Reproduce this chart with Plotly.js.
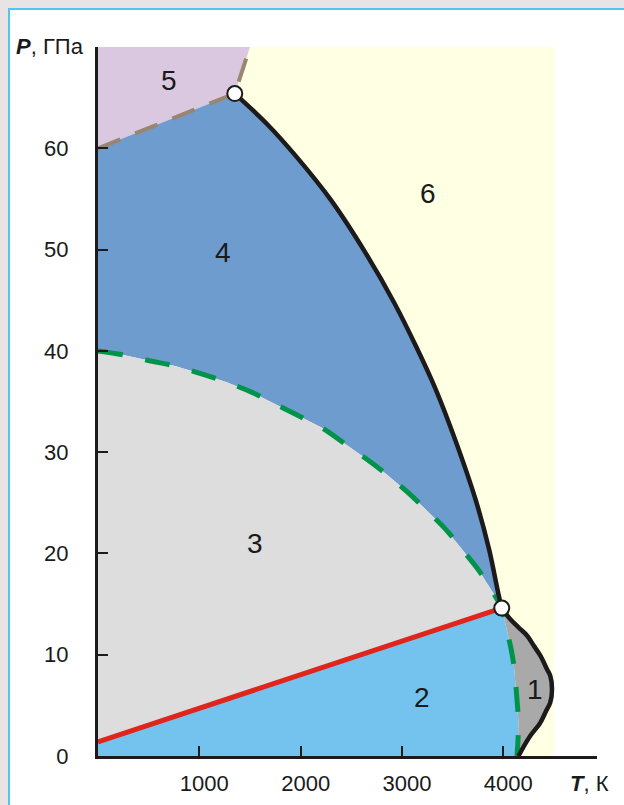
<!DOCTYPE html>
<html>
<head>
<meta charset="utf-8">
<script src="https://cdn.plot.ly/plotly-3.0.1.min.js"></script>
<style>
  html, body { margin:0; padding:0; }
  body { width:624px; height:805px; background:#e8e4e6; position:relative; overflow:hidden; }
  #frame { position:absolute; left:8px; top:8px; width:616px; height:797px; background:#ffffff;
           border-left:2px solid #55c4ee; border-top:2px solid #55c4ee; box-sizing:border-box; }
  #plot { position:absolute; left:0; top:0; width:624px; height:805px; }
</style>
</head>
<body>
<div id="frame"></div>
<div id="plot"></div>
<script>
// ---- data (T in K, P in GPa) ----
const T_MAX = 4500;
const P_MAX = 70;

const brownLowT = [0, 1350];
const brownLowP = [60, 65.4];
const brownUpT = [1350, 1500];
const brownUpP = [65.4, 70];

const meltT = [1350, 1668, 1964, 2298, 2645, 2926, 3141, 3333, 3526, 3727, 3860, 3950, 3985];
const meltP = [65.4, 62.4, 59.1, 54.9, 49.6, 44.7, 40.4, 36.2, 31.2, 25.3, 20.4, 16.1, 14.6];

const greenUpT = [0, 250, 520, 760, 1030, 1270, 1520, 1740, 1980, 2210, 2440, 2640, 2850, 3050, 3250, 3430, 3610, 3760, 3920, 3985];
const greenUpP = [40.0, 39.6, 39.0, 38.5, 37.7, 36.9, 35.9, 34.8, 33.6, 32.4, 30.8, 29.4, 27.8, 26.1, 24.2, 22.4, 20.2, 18.3, 15.8, 14.6];

const greenLowT = [3985, 4030, 4070, 4105, 4135, 4150, 4145, 4135];
const greenLowP = [14.6, 12.6, 10.9, 8.9, 5.6, 3.3, 1.5, 0];

const r1T = [3985, 4070, 4150, 4234, 4300, 4366, 4430, 4464, 4481, 4464, 4420, 4366, 4267, 4200, 4150];
const r1P = [14.6, 13.5, 12.7, 11.9, 10.9, 9.9, 8.6, 7.9, 6.6, 5.3, 4.4, 3.3, 2.0, 0.9, 0];

const redT = [0, 3985];
const redP = [1.4, 14.6];

const tripleT = [1350, 3985];
const tripleP = [65.4, 14.6];

const labelT = [4316, 3198, 1550, 1235, 697, 3260];
const labelP = [6.6, 5.8, 21.0, 49.7, 66.7, 55.5];
const labelText = ['1', '2', '3', '4', '5', '6'];

const xTickVals = [1000, 2000, 3000, 4000];
const yTickVals = [0, 10, 20, 30, 40, 50, 60, 70];
const yTickText = ['0', '10', '20', '30', '40', '50', '60', ''];

// ---- colours ----
const C = {
  r6: '#ffffe3', r5: '#d9c8e0', r4: '#6e9cce', r3: '#dddddd', r2: '#73c3ee', r1: '#a9a9a9',
  brown: '#9a8570', green: '#00944a', red: '#e0261c', black: '#1c1a1a'
};

const rev = a => a.slice().reverse();
const fillTrace = (xs, ys, color) => ({
  x: xs, y: ys, type: 'scatter', mode: 'lines', fill: 'toself', fillcolor: color,
  line: { width: 0, color: color }, hoverinfo: 'skip'
});
const lineTrace = (xs, ys, color, width, dash, shape) => ({
  x: xs, y: ys, type: 'scatter', mode: 'lines',
  line: { color: color, width: width, dash: dash || 'solid', shape: shape || 'linear', smoothing: 1 },
  hoverinfo: 'skip'
});

const traces = [
  fillTrace([0, T_MAX, T_MAX, 0], [0, 0, P_MAX, P_MAX], C.r6),
  fillTrace([...brownLowT, ...brownUpT.slice(1), 0], [...brownLowP, ...brownUpP.slice(1), P_MAX], C.r5),
  fillTrace([...greenUpT, ...rev(meltT), ...rev(brownLowT)], [...greenUpP, ...rev(meltP), ...rev(brownLowP)], C.r4),
  fillTrace([...redT, ...rev(greenUpT)], [...redP, ...rev(greenUpP)], C.r3),
  fillTrace([0, ...redT, ...greenLowT], [0, ...redP, ...greenLowP], C.r2),
  fillTrace([...greenLowT, ...rev(r1T)], [...greenLowP, ...rev(r1P)], C.r1),
  lineTrace([...brownLowT, ...brownUpT.slice(1)], [...brownLowP, ...brownUpP.slice(1)], C.brown, 4, '24px,16px'),
  lineTrace([...greenUpT, ...greenLowT.slice(1)], [...greenUpP, ...greenLowP.slice(1)], C.green, 5, '25px,23px', 'spline'),
  lineTrace(redT, redP, C.red, 5),
  lineTrace(meltT, meltP, C.black, 4.5, 'solid', 'spline'),
  lineTrace(r1T, r1P, C.black, 4.5, 'solid', 'spline'),
  { x: tripleT, y: tripleP, type: 'scatter', mode: 'markers', hoverinfo: 'skip',
    marker: { size: 15, color: '#ffffff', line: { color: C.black, width: 2 } } }
];

const FONT = 'Liberation Sans, Arial, sans-serif';

const annotations = labelText.map((t, i) => ({
  x: labelT[i], y: labelP[i], xref: 'x', yref: 'y', text: t, showarrow: false,
  font: { family: FONT, size: 28, color: '#1a1a1a' }, xanchor: 'center', yanchor: 'middle'
}));
annotations.push({
  xref: 'paper', yref: 'paper', x: (50 - 98) / 499, y: (756 - 46) / 709,
  text: '<b><i>P</i></b>, ГПа', showarrow: false, xanchor: 'center', yanchor: 'middle',
  font: { family: FONT, size: 22, color: '#1a1a1a' }
});
annotations.push({
  xref: 'paper', yref: 'paper', x: (589 - 98) / 499, y: (756 - 783) / 709,
  text: '<b><i>T</i></b>, К', showarrow: false, xanchor: 'center', yanchor: 'middle',
  font: { family: FONT, size: 22, color: '#1a1a1a' }
});

const layout = {
  width: 624, height: 805,
  margin: { l: 98, r: 27, t: 47, b: 49, pad: 0 },
  paper_bgcolor: 'rgba(0,0,0,0)', plot_bgcolor: 'rgba(0,0,0,0)',
  showlegend: false,
  font: { family: FONT, size: 22, color: '#1a1a1a' },
  xaxis: {
    range: [0, 4925], showgrid: false, zeroline: false,
    showline: true, linewidth: 3, linecolor: C.black,
    ticks: 'inside', ticklen: 10, tickwidth: 2, tickcolor: C.black,
    tickmode: 'array', tickvals: xTickVals,
    tickfont: { family: FONT, size: 22, color: '#1a1a1a' },
    ticklabelstandoff: 6, ticklabelshift: 5
  },
  yaxis: {
    range: [0, P_MAX], showgrid: false, zeroline: false,
    showline: true, linewidth: 3, linecolor: C.black,
    ticks: 'inside', ticklen: 10, tickwidth: 2, tickcolor: C.black,
    tickmode: 'array', tickvals: yTickVals, ticktext: yTickText,
    tickfont: { family: FONT, size: 22, color: '#1a1a1a' },
    ticklabelstandoff: 22
  },
  annotations: annotations
};

Plotly.newPlot('plot', traces, layout, { staticPlot: true, displayModeBar: false });
</script>
</body>
</html>
